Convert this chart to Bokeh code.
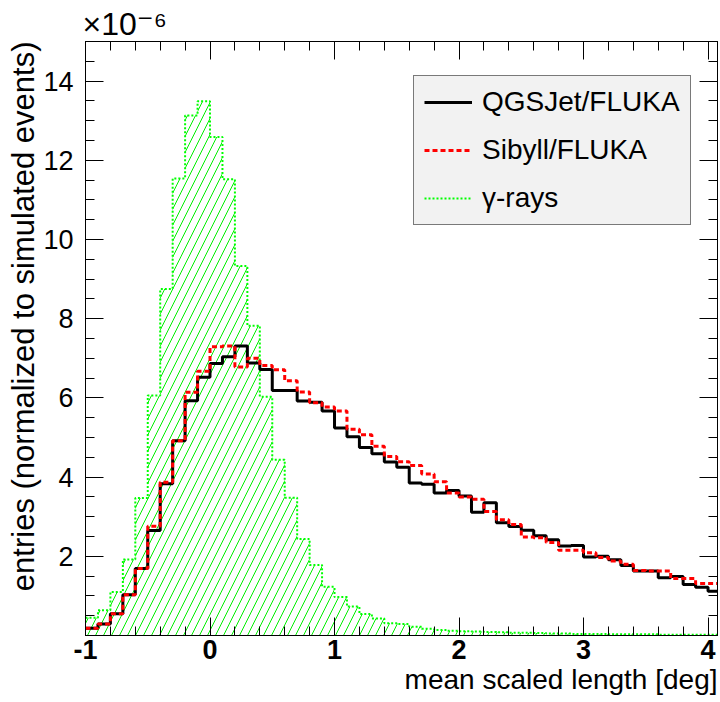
import numpy as np
from bokeh.plotting import figure
from bokeh.models import (Range1d, FixedTicker, LinearAxis, Legend, LegendItem,
                          Title)
from bokeh.embed import file_html
from bokeh.resources import INLINE

# ---- data (values in units of 1e-6) ----
bin_low = -1.0
bin_width = 0.1

qgsjet = [0.18, 0.29, 0.55, 1.03, 1.69, 2.65, 3.83, 4.92, 5.93, 6.52,
          6.87, 7.04, 7.31, 6.88, 6.72, 6.19, 6.19, 5.92, 5.89, 5.67,
          5.24, 5.02, 4.75, 4.59, 4.38, 4.25, 3.85, 3.82, 3.60, 3.66,
          3.52, 3.11, 3.35, 2.85, 2.75, 2.66, 2.52, 2.42, 2.26, 2.27,
          1.98, 2.00, 1.91, 1.77, 1.63, 1.63, 1.46, 1.49, 1.29, 1.22,
          1.12]

sibyll = [0.18, 0.29, 0.55, 1.03, 1.69, 2.76, 3.87, 4.92, 6.14, 6.67,
          7.29, 7.31, 6.78, 7.00, 6.82, 6.71, 6.43, 6.15, 5.88, 5.77,
          5.67, 5.21, 5.07, 4.78, 4.52, 4.39, 4.29, 4.08, 3.88, 3.60,
          3.50, 3.44, 3.13, 2.92, 2.80, 2.49, 2.47, 2.35, 2.15, 2.15,
          2.09, 1.97, 1.88, 1.80, 1.64, 1.63, 1.63, 1.44, 1.44, 1.31,
          1.31]

gamma = [0.45, 0.64, 1.10, 1.92, 3.47, 6.06, 8.75, 11.54, 13.13, 13.49,
         12.59, 11.52, 9.33, 7.82, 6.03, 4.44, 3.48, 2.44, 1.78, 1.23,
         0.97, 0.73, 0.54, 0.43, 0.31, 0.29, 0.22, 0.17, 0.14, 0.12,
         0.11, 0.10, 0.09, 0.08, 0.07, 0.07, 0.06, 0.05, 0.05, 0.04,
         0.04, 0.04, 0.03, 0.03, 0.03, 0.03, 0.02, 0.02, 0.02, 0.02,
         0.02]

labels = ["QGSJet/FLUKA", "Sibyll/FLUKA", "γ-rays"]

x_ticks = [-1, 0, 1, 2, 3, 4]
x_tick_labels = ["-1", "0", "1", "2", "3", "4"]
y_ticks = [2, 4, 6, 8, 10, 12, 14]
y_tick_labels = ["2", "4", "6", "8", "10", "12", "14"]
y_exponent = "×10⁻⁶"

FONT = "Liberation Sans"

n = len(qgsjet)
edges = bin_low + bin_width * np.arange(n + 1)


def step_y(vals):
    return list(vals) + [vals[-1]]


p = figure(width=720, height=702,
           x_range=Range1d(-1, 4.076), y_range=Range1d(0, 15),
           output_backend="svg", toolbar_location=None,
           min_border_left=85, min_border_right=3,
           min_border_top=41, min_border_bottom=67)
p.grid.visible = False
p.outline_line_color = "black"
p.outline_line_width = 1
p.background_fill_color = "white"
p.border_fill_color = "white"

# gamma hatched area + dotted outline
p.varea_step(x=edges, y1=np.zeros(n + 1), y2=step_y(gamma), step_mode="after",
             fill_color=None, hatch_pattern="/", hatch_color="#00ee00",
             hatch_scale=16, hatch_weight=1)
r_g = p.step(edges, step_y(gamma), mode="after", line_color="#00ff00",
             line_width=2, line_dash="2 2")
r_q = p.step(edges, step_y(qgsjet), mode="after", line_color="black",
             line_width=3)
r_s = p.step(edges, step_y(sibyll), mode="after", line_color="#ff0000",
             line_width=3, line_dash="5 3")

x_minor = list(np.round(np.arange(-1.0, 4.08, 0.2), 3))
y_minor = list(np.round(np.arange(0.0, 15.01, 0.5), 3))
xt = FixedTicker(ticks=x_ticks, minor_ticks=x_minor)
yt = FixedTicker(ticks=y_ticks, minor_ticks=y_minor)


def style_axis(ax, show_labels):
    ax.axis_line_color = "black"
    ax.major_tick_line_color = "black"
    ax.minor_tick_line_color = "black"
    ax.major_tick_in = 18
    ax.major_tick_out = 0
    ax.minor_tick_in = 9
    ax.minor_tick_out = 0
    ax.major_label_text_font = FONT
    ax.major_label_text_color = "black"
    if not show_labels:
        ax.major_label_text_font_size = "0px"
        ax.major_label_standoff = 0


xa = p.xaxis[0]
xa.ticker = xt
style_axis(xa, True)
xa.major_label_overrides = dict(zip(x_ticks, x_tick_labels))
xa.major_label_text_font_size = "27px"
xa.major_label_text_font_style = "bold"
xa.major_label_standoff = 4

ya = p.yaxis[0]
ya.ticker = yt
style_axis(ya, True)
ya.major_label_overrides = dict(zip(y_ticks, y_tick_labels))
ya.major_label_text_font_size = "27px"
ya.major_label_standoff = 12

top = LinearAxis(ticker=FixedTicker(ticks=x_ticks, minor_ticks=x_minor))
style_axis(top, False)
p.add_layout(top, "above")
right = LinearAxis(ticker=FixedTicker(ticks=y_ticks, minor_ticks=y_minor))
style_axis(right, False)
p.add_layout(right, "right")

p.add_layout(Title(text="mean scaled length [deg]", align="right",
                   text_font=FONT, text_font_size="28px", text_color="black",
                   text_font_style="normal", standoff=0), "below")
p.add_layout(Title(text="entries (normalized to simulated events)",
                   align="right", text_font=FONT, text_font_size="31px",
                   text_color="black", text_font_style="normal",
                   standoff=0), "left")
p.add_layout(Title(text=y_exponent, align="left",
                   text_font="'Liberation Sans', 'DejaVu Sans'",
                   text_font_size="32px", text_color="black",
                   text_font_style="normal", standoff=0, offset=-3), "above")

legend = Legend(items=[LegendItem(label=labels[0], renderers=[r_q]),
                       LegendItem(label=labels[1], renderers=[r_s]),
                       LegendItem(label=labels[2], renderers=[r_g])],
                location=(328, 410),
                background_fill_color="#f2f2f2", background_fill_alpha=1,
                border_line_color="black", border_line_width=1,
                label_text_font=FONT, label_text_font_size="28px",
                label_text_color="black",
                glyph_width=48, glyph_height=20, label_standoff=10,
                padding=10, spacing=16, margin=0)
p.add_layout(legend)

open("out.html", "w").write(file_html(p, INLINE))
